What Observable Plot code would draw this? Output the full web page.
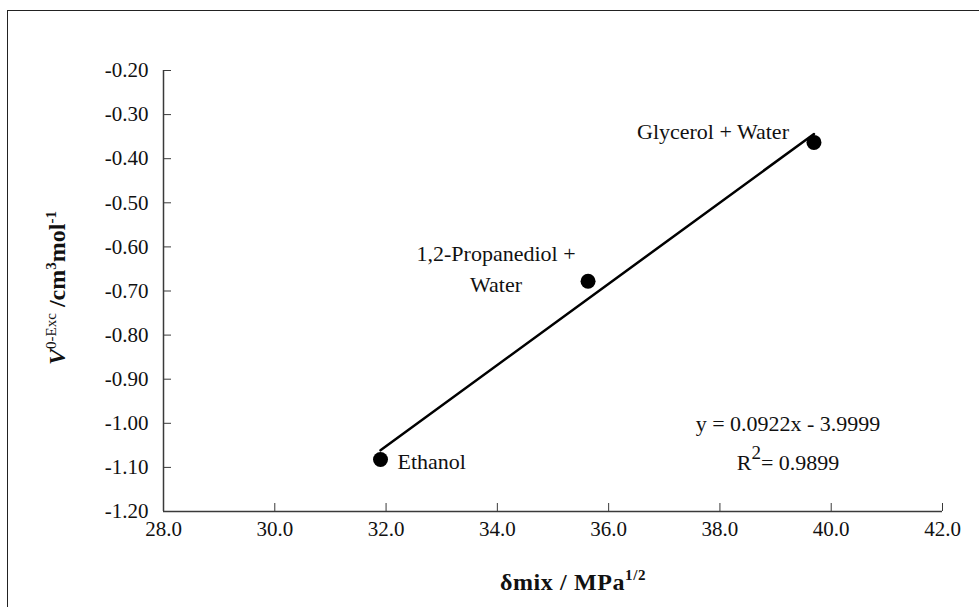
<!DOCTYPE html>
<html>
<head>
<meta charset="utf-8">
<script src="https://cdn.jsdelivr.net/npm/d3@7"></script>
<script src="https://cdn.jsdelivr.net/npm/@observablehq/plot@0.6"></script>
<style>
  html, body { margin: 0; padding: 0; background: #fff; }
  #wrap { position: relative; width: 979px; height: 607px; overflow: hidden; }
  #border { position: absolute; left: 7px; top: 10px; width: 1000px; height: 700px;
            border-top: 1.5px solid #222; border-left: 1.5px solid #222; pointer-events: none; }
</style>
</head>
<body>
<div id="wrap"><div id="border"></div></div>
<script>
// ---- data ----
const categories = ["Ethanol", "1,2-Propanediol + Water", "Glycerol + Water"];
const deltaMix = [31.9, 35.63, 39.69];
const vExcess = [-1.082, -0.678, -0.363];
const xTicks = [28, 30, 32, 34, 36, 38, 40, 42];
const yTicks = [-1.2, -1.1, -1.0, -0.9, -0.8, -0.7, -0.6, -0.5, -0.4, -0.3, -0.2];
const equationText = "y = 0.0922x - 3.9999";
const r2Text = "= 0.9899";

const data = categories.map((c, i) => ({name: c, x: deltaMix[i], y: vExcess[i]}));
const axisColor = "#3a3a3a";
const FONT = "Liberation Serif";

const chart = Plot.plot({
  width: 979,
  height: 607,
  marginLeft: 163,
  marginRight: 37,
  marginTop: 70,
  marginBottom: 96,
  style: {fontFamily: FONT, fontSize: "21px", background: "transparent", overflow: "visible"},
  x: {domain: [28, 42]},
  y: {domain: [-1.2, -0.2]},
  marks: [
    Plot.ruleX([28], {stroke: axisColor, strokeWidth: 1.5}),
    Plot.ruleY([-1.2], {stroke: axisColor, strokeWidth: 1.5}),
    Plot.axisY(yTicks, {tickSize: -8, stroke: axisColor, tickFormat: () => "", label: null}),
    Plot.axisY(yTicks, {tickSize: 0, tickPadding: 15, tickFormat: d => d.toFixed(2), fill: "#111", fontSize: 21, fontFamily: FONT, label: null}),
    Plot.axisX(xTicks, {tickSize: -8, stroke: axisColor, tickFormat: () => "", label: null}),
    Plot.axisX(xTicks, {tickSize: 0, tickPadding: 10, tickFormat: d => d.toFixed(1), fill: "#111", fontSize: 21, fontFamily: FONT, label: null}),
    Plot.linearRegressionY(data, {x: "x", y: "y", stroke: "#000", strokeWidth: 2.5, ci: 0}),
    Plot.dot(data, {x: "x", y: "y", r: 7.5, fill: "#000", stroke: null}),
    Plot.text(data.filter(d => d.name === "Ethanol"), {x: "x", y: "y", text: "name", textAnchor: "start", dx: 17, dy: 2, fontSize: 22, fontFamily: FONT, fill: "#111"}),
    Plot.text(data.filter(d => d.name.startsWith("1,2")), {x: "x", y: "y", text: d => "1,2-Propanediol +\nWater", textAnchor: "middle", lineHeight: 1.4, dx: -92, dy: -15, fontSize: 22, fontFamily: FONT, fill: "#111"}),
    Plot.text(data.filter(d => d.name.startsWith("Glycerol")), {x: "x", y: "y", text: "name", textAnchor: "end", dx: -25, dy: -10, fontSize: 22, fontFamily: FONT, fill: "#111"})
  ]
});

document.getElementById("wrap").appendChild(chart);
chart.style.position = "absolute";
chart.style.left = "0px";
chart.style.top = "0px";

const svg = d3.select(chart);

// Y axis label
const yl = svg.append("text")
  .attr("transform", "translate(65,288) rotate(-90)")
  .attr("text-anchor", "middle")
  .attr("font-weight", "bold")
  .attr("font-size", 24)
  .attr("fill", "#111");
yl.append("tspan").attr("font-style", "italic").text("V");
yl.append("tspan").attr("font-size", 15).attr("font-weight", "normal").attr("dy", -9).text("0-Exc");
yl.append("tspan").attr("dy", 9).text(" /cm");
yl.append("tspan").attr("font-size", 15).attr("dy", -9).text("3");
yl.append("tspan").attr("dy", 9).text("mol");
yl.append("tspan").attr("font-size", 15).attr("dy", -9).text("-1");

// X axis label
const xl = svg.append("text")
  .attr("x", 573).attr("y", 590)
  .attr("text-anchor", "middle")
  .attr("font-weight", "bold")
  .attr("font-size", 24)
  .attr("letter-spacing", 0.6)
  .attr("fill", "#111");
xl.append("tspan").text("\u03B4mix / MPa");
xl.append("tspan").attr("font-size", 15).attr("dy", -10).text("1/2");

// Regression equation
svg.append("text")
  .attr("x", 788).attr("y", 431)
  .attr("text-anchor", "middle")
  .attr("font-size", 22).attr("fill", "#111")
  .text(equationText);
const r2 = svg.append("text")
  .attr("x", 788).attr("y", 470)
  .attr("text-anchor", "middle")
  .attr("font-size", 22).attr("fill", "#111");
r2.append("tspan").text("R");
r2.append("tspan").attr("font-size", 19).attr("dy", -11).text("2");
r2.append("tspan").attr("dy", 11).text(r2Text);

// force the serif face on every text node
svg.selectAll("text, tspan, g").each(function() {
  this.setAttribute("font-family", FONT);
  this.style.setProperty("font-family", "'Liberation Serif', serif", "important");
});
</script>
</body>
</html>
